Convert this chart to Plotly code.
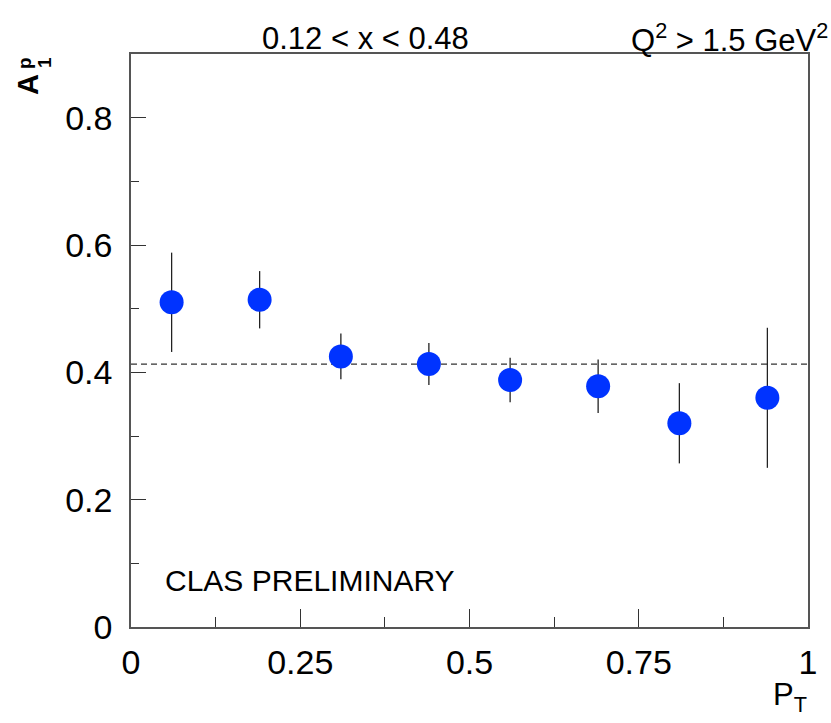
import plotly.graph_objects as go

# data
pt = [0.06, 0.19, 0.31, 0.44, 0.56, 0.69, 0.81, 0.94]
a1p = [0.510, 0.514, 0.425, 0.413, 0.388, 0.378, 0.320, 0.360]
a1p_err = [0.078, 0.045, 0.036, 0.033, 0.035, 0.042, 0.063, 0.110]
fit_level = 0.413

x_ticks = [0, 0.25, 0.5, 0.75, 1]
x_tick_labels = ["0", "0.25", "0.5", "0.75", "1"]
y_ticks = [0, 0.2, 0.4, 0.6, 0.8]
y_tick_labels = ["0", "0.2", "0.4", "0.6", "0.8"]

FONT = "Liberation Sans Narrow, Arial Narrow, Liberation Sans, Arial, sans-serif"
BFONT = "Liberation Sans, Arial, sans-serif"

W, H = 831, 723
ml, mr, mt, mb = 131, 23, 54, 96
pw, ph = W - ml - mr, H - mt - mb


def px2paper(px, py):
    return (px - ml) / pw, (H - mb - py) / ph


fig = go.Figure()

fig.add_trace(go.Scatter(
    x=[0, 1], y=[fit_level, fit_level], mode="lines",
    line=dict(color="#333333", width=1.3, dash="6px,4px"),
    hoverinfo="skip", showlegend=False,
))

fig.add_trace(go.Scatter(
    x=pt, y=a1p, mode="markers",
    marker=dict(color="#0033ff", size=24, line=dict(width=0)),
    error_y=dict(type="data", array=a1p_err, color="#222222", thickness=1.3, width=0),
    showlegend=False,
))

axis_common = dict(
    showgrid=False, zeroline=False, showline=True, linecolor="#555555",
    linewidth=1.5, mirror=True, ticks="inside", tickcolor="#333333",
    tickwidth=1.2, tickfont=dict(family=FONT, size=34, color="black"),
)

fig.update_xaxes(
    range=[0, 1], tickvals=x_ticks, ticktext=x_tick_labels, ticklen=18,
    minor=dict(dtick=0.125, ticks="inside", ticklen=10, tickcolor="#333333", tickwidth=1.2),
    ticklabelstandoff=4,
    **axis_common,
)
fig.update_yaxes(
    range=[0, 0.9], tickvals=y_ticks, ticktext=y_tick_labels, ticklen=15,
    minor=dict(dtick=0.1, ticks="inside", ticklen=8, tickcolor="#333333", tickwidth=1.2),
    ticklabelstandoff=10,
    **axis_common,
)

annots = [
    dict(text="0.12 < x < 0.48", x=365, y=38, size=31, xa="center"),
    dict(text="Q<sup>2</sup> > 1.5 GeV<sup>2</sup>", x=830, y=38, size=31, xa="right"),
    dict(text="CLAS PRELIMINARY", x=310, y=580, size=30, xa="center"),
    dict(text="P<sub>T</sub>", x=790, y=697, size=31, xa="center"),
]
for a in annots:
    ax, ay = px2paper(a["x"], a["y"])
    fig.add_annotation(
        text=a["text"], x=ax, y=ay, xref="paper", yref="paper",
        showarrow=False, font=dict(family=FONT, size=a["size"], color="black"),
        xanchor=a["xa"], yanchor="middle",
    )

# y axis title A_1^p (rotated, stacked super/subscript)
for txt, (cx, cy), sz in [("A", (28, 84), 29), ("p", (25, 63), 19), ("1", (45, 63), 19)]:
    ax, ay = px2paper(cx, cy)
    fig.add_annotation(
        text=txt, x=ax, y=ay, xref="paper", yref="paper", textangle=-90,
        showarrow=False, xanchor="center", yanchor="middle",
        font=dict(family=BFONT, size=sz, color="black", weight="bold"),
    )

fig.update_layout(
    width=W, height=H,
    margin=dict(l=ml, r=mr, t=mt, b=mb, pad=0),
    plot_bgcolor="white", paper_bgcolor="white",
)

fig.write_html("out.html")
